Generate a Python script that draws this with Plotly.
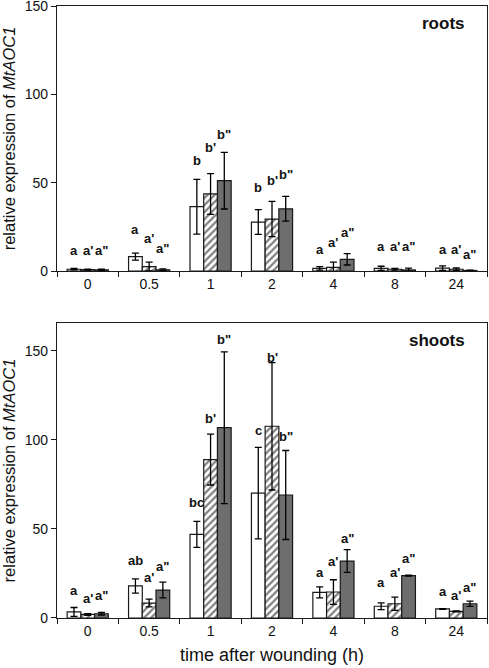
import plotly.graph_objects as go
from plotly.subplots import make_subplots

categories = ["0", "0.5", "1", "2", "4", "8", "24"]

# roots
roots_white = [1.0, 8.1, 36.4, 27.7, 1.5, 1.5, 1.6]
roots_white_err = [0.4, 2.0, 15.5, 7.0, 1.0, 1.2, 1.3]
roots_hatch = [0.8, 2.5, 43.6, 29.4, 2.0, 1.0, 1.0]
roots_hatch_err = [0.3, 2.5, 11.5, 10.0, 3.0, 0.5, 0.7]
roots_gray = [0.7, 0.7, 51.1, 35.2, 6.6, 0.6, 0.3]
roots_gray_err = [0.3, 0.5, 16.0, 7.0, 3.2, 1.0, 0.2]

roots_letters_white = ["a", "a", "b", "b", "a", "a", "a"]
roots_letters_hatch = ["a'", "a'", "b'", "b'", "a'", "a'", "a'"]
roots_letters_gray = ['a"', 'a"', 'b"', 'b"', 'a"', 'a"', 'a"']
roots_letter_y_white = [11.4, 23.3, 62.5, 47.3, 12.0, 13.8, 12.1]
roots_letter_y_hatch = [11.4, 18.4, 70.0, 51.5, 16.3, 13.8, 12.1]
roots_letter_y_gray = [11.4, 12.9, 77.3, 54.5, 21.8, 13.8, 9.1]

# shoots
shoots_white = [3.4, 18.0, 47.0, 70.2, 14.4, 6.6, 5.1]
shoots_white_err = [2.5, 4.0, 7.3, 25.7, 3.1, 1.9, 0.2]
shoots_hatch = [2.0, 8.4, 89.0, 107.7, 14.6, 8.0, 3.7]
shoots_hatch_err = [0.5, 2.2, 14.3, 35.8, 6.9, 3.7, 0.3]
shoots_gray = [2.4, 15.7, 106.9, 69.1, 32.0, 23.8, 8.0]
shoots_gray_err = [0.7, 4.4, 42.6, 25.0, 6.4, 0.3, 1.5]

shoots_letters_white = ["a", "ab", "bc", "c", "a", "a", "a"]
shoots_letters_hatch = ["a'", "a'", "b'", "b'", "a'", "a'", "a'"]
shoots_letters_gray = ['a"', 'a"', 'b"', 'b"', 'a"', 'a"', 'a"']
shoots_letter_y_white = [15.5, 32.4, 64.6, 105.4, 25.3, 20.2, 15.0]
shoots_letter_y_hatch = [10.9, 23.0, 112.0, 146.2, 32.0, 25.3, 12.7]
shoots_letter_y_gray = [12.7, 28.7, 156.4, 102.0, 44.6, 33.7, 17.4]

FONT = "Liberation Sans, Arial, sans-serif"
GRAY = "#6e6e6e"
EDGE = "#1a1a1a"
BAR_PX = 13.7  # pixel offset of side bars relative to category centre

fig = make_subplots(rows=2, cols=1, vertical_spacing=0.0)

def add_panel(row, w, we, h, he, g, ge, lw, lh, lg, yw, yh, yg):
    err = dict(type="data", thickness=1.3, width=3.5, color="black")
    fig.add_trace(go.Bar(x=categories, y=w, error_y=dict(array=we, **err),
                         marker=dict(color="white", line=dict(color=EDGE, width=1.2)),
                         showlegend=False), row=row, col=1)
    fig.add_trace(go.Bar(x=categories, y=h, error_y=dict(array=he, **err),
                         marker=dict(color="white", line=dict(color=EDGE, width=1.2),
                                     pattern=dict(shape="/", fgcolor="black", bgcolor="white",
                                                  size=5, solidity=0.45)),
                         showlegend=False), row=row, col=1)
    fig.add_trace(go.Bar(x=categories, y=g, error_y=dict(array=ge, **err),
                         marker=dict(color=GRAY, line=dict(color=EDGE, width=1.2)),
                         showlegend=False), row=row, col=1)
    xref = "x" if row == 1 else "x2"
    yref = "y" if row == 1 else "y2"
    for labels, ys, shift in ((lw, yw, -BAR_PX), (lh, yh, 0), (lg, yg, BAR_PX)):
        # annotation x uses the category's serial index on the category axis
        for idx, (lab, yv) in enumerate(zip(labels, ys)):
            fig.add_annotation(x=idx, y=yv, xref=xref, yref=yref, text="<b>%s</b>" % lab,
                               showarrow=False, xshift=shift, xanchor="center",
                               yanchor="middle",
                               font=dict(family=FONT, size=13, color="#111"))

add_panel(1, roots_white, roots_white_err, roots_hatch, roots_hatch_err, roots_gray, roots_gray_err,
          roots_letters_white, roots_letters_hatch, roots_letters_gray,
          roots_letter_y_white, roots_letter_y_hatch, roots_letter_y_gray)
add_panel(2, shoots_white, shoots_white_err, shoots_hatch, shoots_hatch_err, shoots_gray, shoots_gray_err,
          shoots_letters_white, shoots_letters_hatch, shoots_letters_gray,
          shoots_letter_y_white, shoots_letter_y_hatch, shoots_letter_y_gray)

axis_common = dict(showline=True, linecolor=EDGE, linewidth=1.3, mirror=True,
                   ticks="outside", tickcolor=EDGE, ticklen=5, showgrid=False,
                   zeroline=False, automargin=False, ticklabeloverflow="allow",
                   tickfont=dict(family=FONT, size=14, color="#111"))

fig.update_xaxes(**axis_common, tickson="boundaries", type="category",
                 categoryorder="array", categoryarray=categories,
                 range=[-0.5, len(categories) - 0.5], tickangle=0)
fig.update_yaxes(**axis_common)
fig.update_yaxes(range=[0, 150], tickvals=[0, 50, 100, 150], row=1, col=1)
fig.update_yaxes(range=[0, 165.7], tickvals=[0, 50, 100, 150], row=2, col=1)
fig.update_layout(
    yaxis=dict(domain=[0.567, 1.0]),
    yaxis2=dict(domain=[0.0, 0.482]),
)
fig.update_yaxes(title=dict(text="relative expression of <i>MtAOC1</i>",
                            font=dict(family=FONT, size=16.5, color="#111"), standoff=4))
fig.update_xaxes(title=dict(text="time after wounding (h)",
                            font=dict(family=FONT, size=18, color="#111"), standoff=10), row=2, col=1)

fig.add_annotation(text="<b>roots</b>", xref="paper", yref="paper", x=0.953, y=0.9706,
                   xanchor="right", yanchor="middle", showarrow=False,
                   font=dict(family=FONT, size=17, color="#111"))
fig.add_annotation(text="<b>shoots</b>", xref="paper", yref="paper", x=0.953, y=0.454,
                   xanchor="right", yanchor="middle", showarrow=False,
                   font=dict(family=FONT, size=17, color="#111"))

fig.update_layout(
    width=489, height=668, barmode="group", bargap=0.33, bargroupgap=0,
    plot_bgcolor="white", paper_bgcolor="white",
    margin=dict(l=57, r=2, t=6, b=50),
    font=dict(family=FONT, size=14, color="#111"),
)

fig.write_html("out.html", config={"displayModeBar": False},
               post_script="document.body.style.margin='0px';document.body.style.overflow='hidden';")
